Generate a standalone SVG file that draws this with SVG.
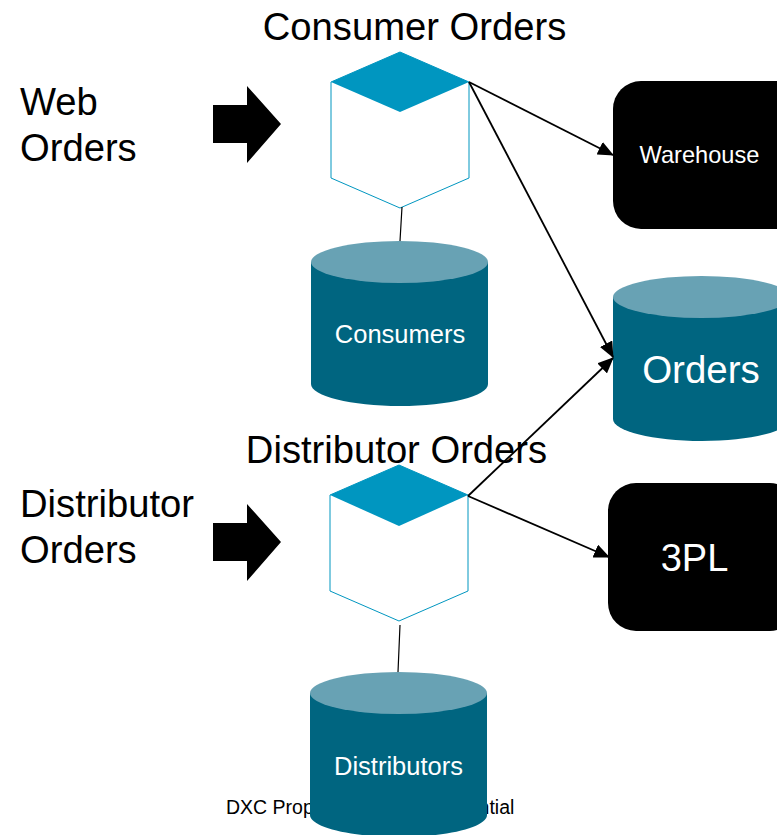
<svg xmlns="http://www.w3.org/2000/svg" width="777" height="835" viewBox="0 0 777 835">
<style>
text{font-family:"Liberation Sans",Arial,sans-serif}
.t{font-size:38.2px;fill:#000}
.w{fill:#fff;text-anchor:middle}
.body{fill:#006580}
.top{fill:#68a2b4}
.face{fill:#fff;stroke:#0096c0;stroke-width:1}
.cap{fill:#0096c0}
.c{fill:none;stroke:#000;stroke-width:1.2}
.a{fill:none;stroke:#000;stroke-width:1.8;marker-end:url(#ah)}
</style>
<defs><marker id="ah" markerUnits="userSpaceOnUse" markerWidth="16" markerHeight="14" refX="15" refY="7" orient="auto"><path d="M0 0L16 7L0 14z" fill="#000"/></marker></defs>
<rect width="777" height="835" fill="#fff"/>
<g id="web-label"><text class="t" x="20" y="115">Web</text><text class="t" x="20" y="161">Orders</text></g>
<g id="web-arrow"><path d="M213 105H247V86L281 124L247 163V143H213z"/></g>
<g id="consumer-orders"><path class="face" d="M331 82L400 52L469 82V178L400 208L331 178z"/><path class="cap" d="M331 82L400 52L469 82L400 112z"/><text class="t" x="414.500" y="40" text-anchor="middle">Consumer Orders</text></g>
<g id="consumers"><path class="body" d="M311 262V384C311 396 351 406 400 406S488 396 488 384V262z"/><ellipse class="top" cx="399.500" cy="262" rx="88.500" ry="21"/><text class="w" x="400" y="343" font-size="25.500">Consumers</text></g>
<g id="warehouse"><rect x="613" y="81" width="190" height="148" rx="28" fill="#000"/><text class="w" x="699.500" y="163" font-size="23.600">Warehouse</text></g>
<g id="orders"><path class="body" d="M613 297V419C613 431 653 441 702 441S790 431 790 419V297z"/><ellipse class="top" cx="701.500" cy="297" rx="88.500" ry="21"/><text class="w" x="701" y="383" font-size="38.500">Orders</text></g>
<g id="distributor-label"><text class="t" x="20" y="517">Distributor</text><text class="t" x="20" y="563">Orders</text></g>
<g id="distributor-arrow"><path d="M213 523H247V504L281 542L247 581V561H213z"/></g>
<g id="distributor-orders"><path class="face" d="M330 495L399 465L468 495V591L399 621L330 591z"/><path class="cap" d="M330 495L399 465L468 495L399 526z"/><text class="t" x="396.500" y="463" text-anchor="middle">Distributor Orders</text></g>
<g id="3pl"><rect x="608" y="483" width="190" height="148" rx="28" fill="#000"/><text class="w" x="694.500" y="571" font-size="38">3PL</text></g>
<text x="226" y="814" font-size="19.500">DXC Proprietary and Confidential</text>
<g id="distributors"><path class="body" d="M310 693V815C310 827 350 837 399 837S487 827 487 815V693z"/><ellipse class="top" cx="398.500" cy="693" rx="88.500" ry="21"/><text class="w" x="398.500" y="775" font-size="25.500">Distributors</text></g>
<g id="connectors">
<path class="c" d="M402 207L400 241M400 625L398 672"/>
<path class="a" d="M469 82L613 155"/>
<path class="a" d="M469 82L613 357"/>
<path class="a" d="M468 496L613 358"/>
<path class="a" d="M468 496L609 557"/>
</g>
</svg>
